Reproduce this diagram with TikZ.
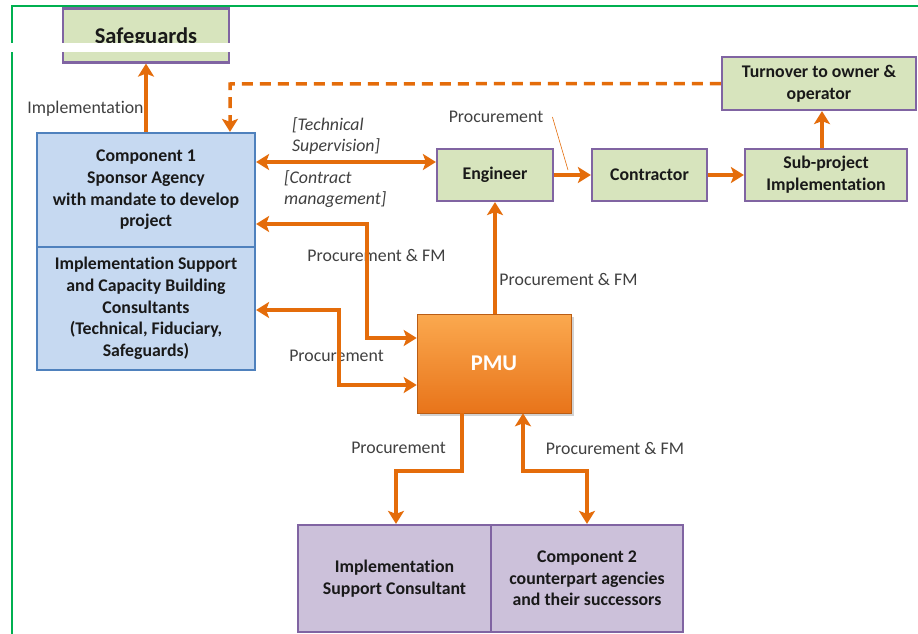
\documentclass[tikz,border=0pt]{standalone}
\usepackage{fontspec}
\setmainfont{Carlito}[RawFeature=-liga, RawFeature=-clig, RawFeature=-rlig, RawFeature=-calt]
\usetikzlibrary{arrows.meta,shadows,calc}
\definecolor{frameg}{HTML}{00B050}
\definecolor{boxg}{HTML}{D7E4BD}
\definecolor{boxp}{HTML}{8064A2}
\definecolor{boxb}{HTML}{C6D9F1}
\definecolor{edgeb}{HTML}{4F81BD}
\definecolor{boxl}{HTML}{CCC1DA}
\definecolor{arrowo}{HTML}{E46C0A}
\definecolor{pmutop}{HTML}{FBA94F}
\definecolor{pmubot}{HTML}{E8741A}
\definecolor{lbl}{HTML}{404040}
\begin{document}
\begin{tikzpicture}[x=1pt,y=-1pt,
  box/.style={draw=boxp, line width=2.2pt, fill=boxg, inner sep=0pt, align=center,
    font=\fontsize{17.8}{21.7}\selectfont\bfseries, text=black!90},
  bbox/.style={box, draw=edgeb, fill=boxb},
  lbox/.style={box, fill=boxl},
  lab/.style={font=\fontsize{17.8}{21.7}\selectfont, text=lbl, inner sep=0pt},
  ilab/.style={lab, font=\fontsize{17.8}{21.7}\selectfont\itshape, align=left, anchor=west},
  arr/.style={draw=arrowo, line width=3.5pt, -{Stealth[length=13pt,width=16pt,inset=3pt]}},
  arrb/.style={draw=arrowo, line width=3.5pt, {Stealth[length=13pt,width=16pt,inset=3pt]}-{Stealth[length=13pt,width=16pt,inset=3pt]}},
  dash arr/.style={arr, dash pattern=on 11pt off 7pt}
]
\useasboundingbox (0,0) rectangle (918,634);
\fill[white] (0,0) rectangle (918,634);
% frame
\draw[frameg, line width=2pt] (12,634) -- (12,6) -- (918,6);

% nodes
\node[box, minimum width=166pt, minimum height=54pt, text height=16pt, text depth=0pt,
  font=\fontsize{22.5}{26}\selectfont\bfseries] (safe) at (146,35.5) {Safeguards};
\node[box, minimum width=194pt, minimum height=53pt] (turn) at (819,83.5) {Turnover to owner \&\\operator};
\node[box, minimum width=116pt, minimum height=52pt] (eng) at (495,175) {Engineer};
\node[box, minimum width=115pt, minimum height=52pt] (con) at (649.5,175) {Contractor};
\node[box, minimum width=162pt, minimum height=52pt] (sub) at (826,175) {Sub-project\\Implementation};
\node[bbox, minimum width=218pt, minimum height=114pt] (c1a) at (146,190) {Component 1\\Sponsor Agency\\with mandate to develop\\project};
\node[bbox, minimum width=218pt, minimum height=123pt] (c1b) at (146,308.5) {Implementation Support\\and Capacity Building\\Consultants\\(Technical, Fiduciary,\\Safeguards)};
\node[draw=pmubot!80!black, line width=0.6pt, top color=pmutop, bottom color=pmubot,
  minimum width=154pt, minimum height=99pt, inner sep=0pt, text=white,
  font=\fontsize{22.5}{26}\selectfont\bfseries,
  drop shadow={opacity=0.35, shadow xshift=2.5pt, shadow yshift=-2.5pt}] (pmu) at (494,363.5) {PMU};
\node[lbox, minimum width=193pt, minimum height=107pt] (isc) at (394.5,578.5) {Implementation\\Support Consultant};
\node[lbox, minimum width=192pt, minimum height=107pt] (c2) at (587,578.5) {Component 2\\counterpart agencies\\and their successors};

% white strip across the top
\fill[white] (0,43) rectangle (230.5,52.5);

% labels
\node[lab] (limpl) at (85.5,109) {Implementation};
\node[lab] (lproc1) at (496,117) {Procurement};
\node[ilab] (ltech) at (292,136) {[Technical\\Supervision]};
\node[ilab] (lcontr) at (284,189) {[Contract\\management]};
\node[lab] (lpfm1) at (376.5,255) {Procurement \& FM};
\node[lab] (lpfm2) at (568.5,279) {Procurement \& FM};
\node[lab] (lproc2) at (336.5,356) {Procurement};
\node[lab] (lproc3) at (398.5,448) {Procurement};
\node[lab] (lpfm3) at (615,448) {Procurement \& FM};

% connectors
\draw[arr] (c1a.north) -- (safe.south);
\coordinate (dk) at (230,84);
\draw[dash arr] (turn.west) -- (dk) -- (dk |- c1a.north);
\draw[arrb] (c1a.east |- 0,162) -- (eng.west |- 0,162);
\draw[arr] (eng.east) -- (con.west);
\draw[arr] (con.east) -- (sub.west);
\draw[arr] (sub.north -| 822,0) -- (turn.south -| 822,0);
\draw[arr] (pmu.north -| 495,0) -- (eng.south -| 495,0);
\draw[arrb] (c1a.east |- 0,224) -| (367,338) -- (pmu.west |- 0,338);
\draw[arrb] (c1b.east |- 0,310) -| (339,385) -- (pmu.west |- 0,385);
\draw[arr] (pmu.south -| 462,0) |- (396,471) -- (isc.north -| 396,0);
\draw[arrb] (pmu.south -| 523,0) |- (587,471) -- (c2.north);
\draw[arrowo, line width=0.6pt] (lproc1.east) ++(9,0) -- (568,170);
\end{tikzpicture}
\end{document}
